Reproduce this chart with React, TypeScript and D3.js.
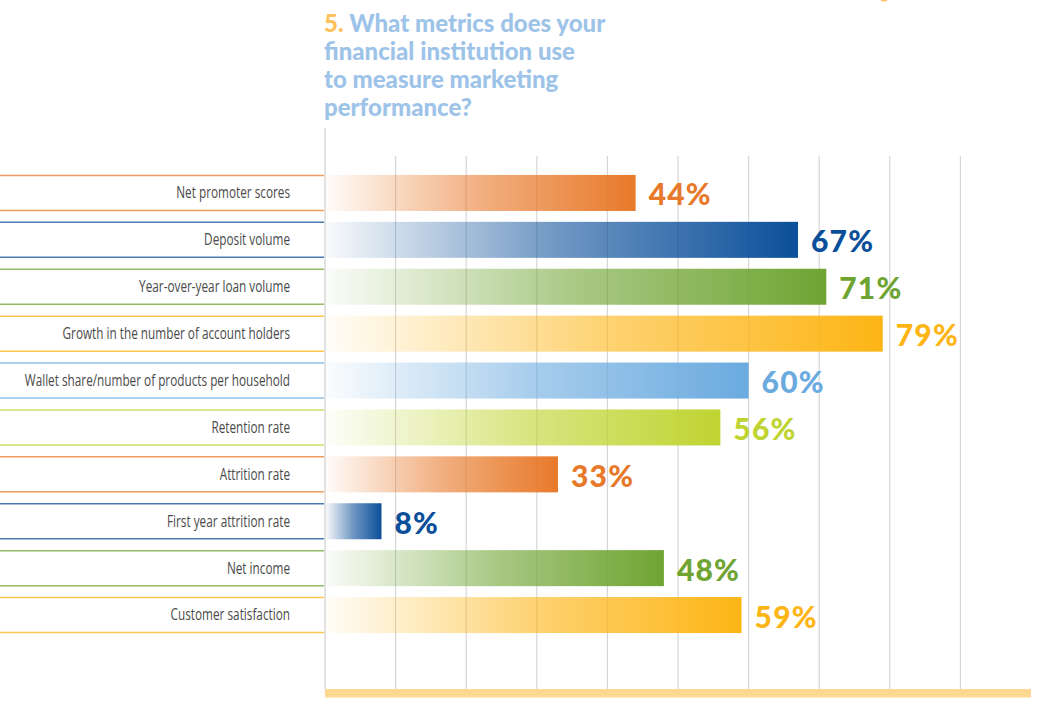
import React from "react";
import * as d3 from "d3";

const categories = [
  "Net promoter scores",
  "Deposit volume",
  "Year-over-year loan volume",
  "Growth in the number of account holders",
  "Wallet share/number of products per household",
  "Retention rate",
  "Attrition rate",
  "First year attrition rate",
  "Net income",
  "Customer satisfaction",
];
const values = [44, 67, 71, 79, 60, 56, 33, 8, 48, 59];
const colors = [
  "#E8792A",
  "#0B4F9A",
  "#6FA432",
  "#FDB515",
  "#6AAADF",
  "#BFD431",
  "#E8792A",
  "#0B4F9A",
  "#6FA432",
  "#FDB515",
];
const gridTicks = [10, 20, 30, 40, 50, 60, 70, 80, 90];
const titleLines = [
  ["5. ", "What metrics does your"],
  ["", "financial institution use"],
  ["", "to measure marketing"],
  ["", "performance?"],
];

export default function App() {
  const W = 1045;
  const H = 707;
  const x = d3.scaleLinear().domain([0, 100]).range([325, 1031]);
  const y = d3
    .scaleBand<string>()
    .domain(categories)
    .range([169.5, 638.5])
    .paddingInner(0.232)
    .paddingOuter(0.116);
  const bw = y.bandwidth();
  const axisTop = 128;
  const gridTop = 156;
  const gridBottom = 689;

  return (
    <svg
      width={W}
      height={H}
      style={{ position: "absolute", left: 0, top: 0, background: "#fff" }}
    >
      <defs>
        {categories.map((c, i) => (
          <linearGradient key={c} id={`g${i}`} x1="0" x2="1" y1="0" y2="0">
            <stop offset="0" stopColor={colors[i]} stopOpacity={0.03} />
            <stop offset="0.5" stopColor={colors[i]} stopOpacity={0.6} />
            <stop offset="1" stopColor={colors[i]} stopOpacity={1} />
          </linearGradient>
        ))}
      </defs>

      <circle cx={884} cy={-3} r={4.5} fill="#FDC05A" />

      {titleLines.map((l, i) => (
        <text
          key={i}
          x={324}
          y={32 + i * 28}
          fontFamily="Lato, 'Open Sans', sans-serif"
          fontWeight={900}
          fontSize={24}
          fill="#9DC3E8"
        >
          {l[0] && <tspan fill="#FDC05A">{l[0]}</tspan>}
          <tspan>{l[1]}</tspan>
        </text>
      ))}

      {/* grid */}
      <line x1={x(0)} x2={x(0)} y1={axisTop} y2={gridBottom} stroke="#cfcfcf" strokeWidth={1.2} />
      {gridTicks.map((t) => (
        <line
          key={t}
          x1={x(t)}
          x2={x(t)}
          y1={gridTop}
          y2={gridBottom}
          stroke="#d6d6d6"
          strokeWidth={1.2}
        />
      ))}
      <rect x={x(0)} y={gridBottom} width={x(100) - x(0)} height={8.5} fill="#FDD891" />

      {categories.map((c, i) => {
        const top = y(c) as number;
        return (
          <g key={c}>
            <line x1={0} x2={324} y1={top + 0.5} y2={top + 0.5} stroke={colors[i]} strokeOpacity={0.75} strokeWidth={1.5} />
            <line x1={0} x2={324} y1={top + bw - 0.5} y2={top + bw - 0.5} stroke={colors[i]} strokeOpacity={0.75} strokeWidth={1.5} />
            <text
              transform={`translate(290, ${top + bw / 2}) scale(0.76, 1)`}
              dy="0.35em"
              textAnchor="end"
              fontFamily="'Open Sans', 'DejaVu Sans', sans-serif"
              fontSize={15.5}
              fill="#4a4a4a"
            >
              {c}
            </text>
            <rect x={x(0) + 1} y={top} width={x(values[i]) - x(0) - 1} height={bw} fill={`url(#g${i})`} />
            <text
              x={x(values[i]) + 13}
              y={top + bw / 2 + 2}
              dy="0.35em"
              fontFamily="Lato, 'Open Sans', sans-serif"
              fontWeight={900}
              fontSize={30}
              letterSpacing={1.2}
              fill={colors[i]}
            >
              {values[i]}%
            </text>
          </g>
        );
      })}
    </svg>
  );
}
